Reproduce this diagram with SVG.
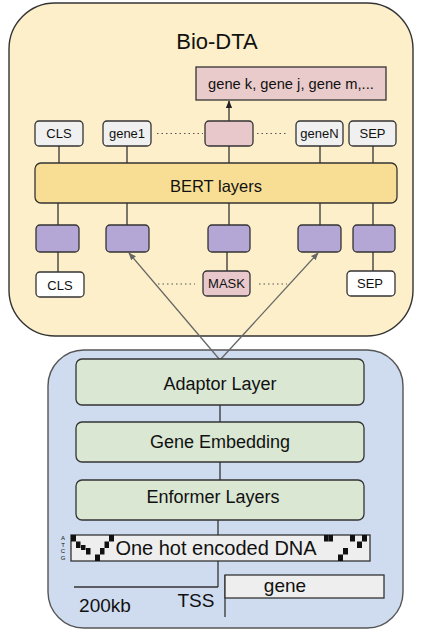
<svg xmlns="http://www.w3.org/2000/svg" width="423" height="640" viewBox="0 0 423 640">
<defs>
<style>
text{font-family:"Liberation Sans",Arial,sans-serif;fill:#111;text-anchor:middle}
.tok{fill:#f0f0f0;stroke:#333;stroke-width:1.3}
.pur{fill:#b4a7d6;stroke:#333;stroke-width:1.3}
.pink{fill:#e8c8ca;stroke:#333;stroke-width:1.3}
.wht{fill:#ffffff;stroke:#333;stroke-width:1.3}
.grn{fill:#d9e7d3;stroke:#333;stroke-width:1.3}
.ln{stroke:#333;stroke-width:1.3;fill:none}
.dot{stroke:#555;stroke-width:1.2;stroke-dasharray:1.5 3;fill:none}
.gl{stroke:#666;stroke-width:1.3;fill:none}
.t13{font-size:13px}
.t18{font-size:18px}
.t19{font-size:19px}
</style>
<marker id="ah" viewBox="0 0 10 10" refX="9" refY="5" markerWidth="6" markerHeight="6" orient="auto"><path d="M0,1 L10,5 L0,9 z" fill="#666"/></marker>
<marker id="ahb" viewBox="0 0 10 10" refX="9" refY="5" markerWidth="6" markerHeight="6" orient="auto"><path d="M0,1 L10,5 L0,9 z" fill="#222"/></marker>
</defs>
<g id="bio-dta">
<rect x="9" y="3" width="404" height="333" rx="46" fill="#fcefc9" stroke="#333" stroke-width="1.4"/>
<text x="217" y="49" style="font-size:22px">Bio-DTA</text>
</g>
<g id="encoder">
<rect x="48" y="350" width="355" height="278" rx="36" fill="#cfdcef" stroke="#555" stroke-width="1.4"/>
</g>
<g id="connectors">
<line class="ln" x1="229" y1="121" x2="229" y2="101" marker-end="url(#ahb)"/>
<line class="ln" x1="59" y1="146" x2="59" y2="163"/>
<line class="ln" x1="127" y1="146" x2="127" y2="163"/>
<line class="ln" x1="229" y1="146" x2="229" y2="163"/>
<line class="ln" x1="320" y1="146" x2="320" y2="163"/>
<line class="ln" x1="373" y1="146" x2="373" y2="163"/>
<line class="ln" x1="58" y1="203" x2="58" y2="225"/>
<line class="ln" x1="127" y1="203" x2="127" y2="225"/>
<line class="ln" x1="229" y1="203" x2="229" y2="225"/>
<line class="ln" x1="320" y1="203" x2="320" y2="225"/>
<line class="ln" x1="373" y1="203" x2="373" y2="225"/>
<line class="ln" x1="58" y1="252" x2="58" y2="272"/>
<line class="ln" x1="227" y1="252" x2="227" y2="271"/>
<line class="ln" x1="373" y1="252" x2="373" y2="271"/>
<line class="dot" x1="157" y1="133.5" x2="203" y2="133.5"/>
<line class="dot" x1="257" y1="133.5" x2="287" y2="133.5"/>
<line class="dot" x1="158" y1="284" x2="195" y2="284"/>
<line class="dot" x1="259" y1="284" x2="287" y2="284"/>
<line class="gl" x1="220" y1="360" x2="129" y2="253" marker-end="url(#ah)"/>
<line class="gl" x1="220" y1="360" x2="318" y2="253" marker-end="url(#ah)"/>
<line class="ln" x1="220" y1="405" x2="220" y2="422"/>
<line class="ln" x1="220" y1="462" x2="220" y2="480"/>
<line class="ln" x1="218" y1="520" x2="218" y2="535"/>
<line class="ln" x1="218" y1="561" x2="218" y2="587"/>
<line class="ln" x1="74" y1="587" x2="218" y2="587"/>
<line class="ln" x1="225" y1="575" x2="225" y2="617"/>
</g>
<g id="output">
<rect x="196" y="67" width="190" height="33" fill="#eacbcb" stroke="#333" stroke-width="1.3"/>
<text x="291" y="89" style="font-size:14.7px">gene k, gene j, gene m,...</text>
</g>
<g id="out-cls"><rect class="tok" x="35" y="121" width="48" height="25" rx="4"/><text class="t13" x="59" y="138">CLS</text></g>
<g id="out-gene1"><rect class="tok" x="103" y="121" width="48" height="25" rx="4"/><text class="t13" x="127" y="138">gene1</text></g>
<g id="out-mask"><rect class="pink" x="205" y="121" width="48" height="25" rx="4"/></g>
<g id="out-geneN"><rect class="tok" x="296" y="121" width="47" height="25" rx="4"/><text class="t13" x="319.5" y="138">geneN</text></g>
<g id="out-sep"><rect class="tok" x="349" y="121" width="47" height="25" rx="4"/><text class="t13" x="372.5" y="138">SEP</text></g>
<g id="bert">
<rect x="35" y="163" width="362" height="40" rx="6" fill="#f8de94" stroke="#333" stroke-width="1.3"/>
<text x="216" y="192" style="font-size:16.5px">BERT layers</text>
</g>
<g id="emb1"><rect class="pur" x="36" y="225" width="43" height="27" rx="4"/></g>
<g id="emb2"><rect class="pur" x="106" y="225" width="43" height="27" rx="4"/></g>
<g id="emb3"><rect class="pur" x="208" y="225" width="42" height="27" rx="4"/></g>
<g id="emb4"><rect class="pur" x="298" y="225" width="43" height="27" rx="4"/></g>
<g id="emb5"><rect class="pur" x="353" y="225" width="42" height="27" rx="4"/></g>
<g id="in-cls"><rect class="wht" x="36" y="272" width="48" height="25" rx="4"/><text class="t13" x="60" y="290">CLS</text></g>
<g id="in-mask"><rect class="pink" x="203" y="271" width="47" height="25" rx="4"/><text class="t13" x="226.5" y="288">MASK</text></g>
<g id="in-sep"><rect class="wht" x="347" y="271" width="48" height="25" rx="4"/><text class="t13" x="370" y="288">SEP</text></g>
<g id="adaptor"><rect class="grn" x="76" y="359" width="288" height="46" rx="6"/><text class="t18" x="220" y="390">Adaptor Layer</text></g>
<g id="gene-embedding"><rect class="grn" x="76" y="422" width="288" height="40" rx="6"/><text class="t18" x="220" y="448">Gene Embedding</text></g>
<g id="enformer"><rect class="grn" x="76" y="480" width="288" height="40" rx="6"/><text class="t18" x="213" y="503">Enformer Layers</text></g>
<g id="dna">
<rect x="71" y="535" width="299" height="26" fill="#eeeeee" stroke="#333" stroke-width="1.3"/>
<g fill="#111">
<rect x="71" y="535" width="5" height="6.5"/>
<rect x="76" y="541.5" width="4.5" height="6.5"/>
<rect x="81" y="545" width="4.5" height="5"/>
<rect x="86" y="548" width="4.5" height="6.5"/>
<rect x="95" y="554.5" width="5" height="6.5"/>
<rect x="100" y="548" width="4.5" height="6.5"/>
<rect x="104.5" y="541.5" width="4.5" height="6.5"/>
<rect x="109" y="535" width="5" height="6.5"/>
<rect x="324" y="535" width="4.5" height="6.5"/>
<rect x="328.5" y="535" width="4.5" height="6.5"/>
<rect x="338" y="554.5" width="5" height="6.5"/>
<rect x="343" y="548" width="5" height="6.5"/>
<rect x="350" y="535" width="5" height="6.5"/>
<rect x="357" y="541.5" width="5" height="6.5"/>
<rect x="362" y="535" width="5" height="6.5"/>
</g>
<text x="216" y="555" style="font-size:20px">One hot encoded DNA</text>
<text x="63" y="540" style="font-size:6px">A</text>
<text x="63" y="546.5" style="font-size:6px">T</text>
<text x="63" y="553" style="font-size:6px">C</text>
<text x="63" y="559.5" style="font-size:6px">G</text>
</g>
<g id="gene"><rect x="225" y="575" width="159" height="23" fill="#eeeeee" stroke="#333" stroke-width="1.3"/><text class="t19" x="285" y="592">gene</text></g>
<g id="labels">
<text class="t19" x="105" y="612">200kb</text>
<text class="t19" x="196" y="607">TSS</text>
</g>
</svg>
